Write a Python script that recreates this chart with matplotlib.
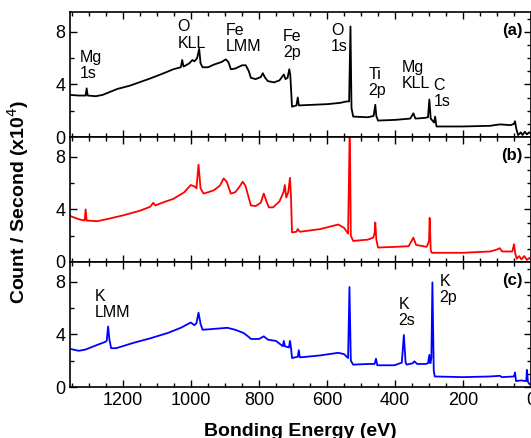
import matplotlib
matplotlib.use("Agg")
import matplotlib.pyplot as plt
from matplotlib.ticker import MultipleLocator

plt.rcParams['font.family'] = ['Liberation Sans', 'DejaVu Sans']

# binding energy (eV) / counts per second (x10^4)
energy_a = [1356, 1330, 1310, 1307, 1304, 1280, 1260, 1217, 1180, 1120, 1080, 1052, 1030, 1026, 1022,
            1005, 996, 990, 982, 976, 972, 966, 950, 933, 910, 898, 890, 883, 870, 850, 839, 830, 824,
            810, 795, 789, 782, 774, 756, 740, 727, 722, 716, 711, 708, 703, 690, 686, 683, 640, 597,
            560, 543, 535, 531, 528, 523, 480, 463, 458, 455, 450, 400, 355, 346, 340, 313, 303, 299,
            295, 285, 282, 278, 200, 120, 95, 86, 60, 50, 47, 43, 38, 30, 25, 18, 12, 6, 0]
counts_a = [3.2, 3.15, 3.15, 3.7, 3.15, 3.1, 3.2, 3.65, 3.9, 4.45, 4.85, 5.15, 5.3, 5.85, 5.35,
            5.6, 5.85, 5.75, 6.0, 6.7, 5.6, 5.3, 5.3, 5.5, 5.7, 5.9, 5.7, 5.15, 5.2, 5.45, 5.45, 5.0, 4.5,
            4.4, 4.55, 4.85, 4.5, 4.25, 4.15, 4.3, 4.75, 4.4, 4.5, 5.15, 4.7, 2.3, 2.4, 3.0, 2.4, 2.45, 2.5,
            2.6, 2.7, 2.7, 8.4, 2.2, 1.55, 1.5, 1.6, 2.45, 1.6, 1.25, 1.3, 1.4, 1.8, 1.4, 1.45, 1.5, 2.85,
            1.4, 1.1, 1.55, 0.8, 0.8, 0.85, 0.95, 0.95, 0.9, 1.0, 1.2, 0.6, 0.15, 0.35, 0.15, 0.4, 0.2, 0.35, 0.25]

energy_b = [1356, 1330, 1313, 1310, 1307, 1276, 1240, 1199, 1150, 1120, 1111, 1105, 1080, 1052, 1020,
            1001, 990, 984, 978, 972, 963, 950, 933, 915, 904, 895, 883, 870, 858, 848, 840, 824, 810,
            795, 786, 778, 771, 759, 740, 728, 724, 720, 714, 709, 706, 703, 690, 686, 680, 620, 567,
            550, 538, 533, 530, 523, 480, 464, 460, 458, 455, 450, 400, 360, 346, 338, 307, 300, 298,
            295, 292, 200, 120, 100, 92, 85, 55, 50, 46, 42, 35, 28, 20, 12, 6, 0]
counts_b = [3.5, 3.25, 3.15, 4.0, 3.15, 3.1, 3.3, 3.55, 3.9, 4.2, 4.5, 4.3, 4.55, 4.8, 5.3,
            5.85, 5.75, 5.6, 7.4, 5.6, 5.2, 5.3, 5.45, 5.8, 6.35, 6.1, 5.2, 5.3, 5.7, 6.1, 5.8, 4.3, 4.25,
            4.5, 5.2, 4.6, 4.15, 4.15, 4.6, 5.3, 5.85, 4.9, 5.3, 6.4, 5.0, 2.25, 2.3, 2.5, 2.3, 2.5, 2.85,
            2.6, 2.15, 10.5, 2.0, 1.6, 1.7, 1.85, 2.2, 3.0, 1.7, 1.1, 1.15, 1.2, 1.85, 1.3, 1.15, 1.6, 3.35,
            0.9, 0.7, 0.7, 0.8, 0.95, 1.05, 0.8, 0.8, 1.35, 0.6, 0.25, 0.45, 0.2, 0.45, 0.15, 0.3, 0.2]

energy_c = [1356, 1330, 1310, 1276, 1255, 1248, 1244, 1240, 1235, 1220, 1170, 1120, 1069, 1030, 1001,
            990, 984, 978, 972, 966, 940, 893, 870, 845, 830, 824, 800, 786, 774, 750, 730, 727, 724,
            712, 709, 706, 703, 686, 683, 680, 620, 567, 550, 538, 534, 530, 523, 480, 460, 456, 452,
            402, 380, 374, 369, 366, 348, 343, 335, 310, 303, 299, 296, 293, 290, 286, 283, 200, 120,
            92, 85, 50, 47, 44, 30, 14, 12, 9, 4, 0]
counts_c = [2.9, 2.75, 2.85, 3.2, 3.4, 3.5, 4.6, 3.6, 2.95, 2.95, 3.35, 3.7, 4.1, 4.5, 4.9,
            4.7, 4.85, 5.65, 4.8, 4.35, 4.4, 4.5, 4.35, 4.1, 3.8, 3.65, 3.65, 3.85, 3.6, 3.5, 3.1, 3.5, 3.1,
            3.0, 3.5, 3.0, 2.2, 2.3, 2.8, 2.25, 2.4, 2.6, 2.5, 2.2, 7.6, 2.0, 1.7, 1.75, 1.75, 2.15, 1.65,
            1.65, 1.85, 3.95, 1.9, 1.7, 1.8, 1.95, 1.75, 1.75, 1.8, 2.45, 1.8, 2.2, 7.95, 1.2, 0.8, 0.75, 0.8,
            0.85, 0.75, 0.8, 1.1, 0.45, 0.5, 0.45, 1.3, 0.4, 0.2, 0.2]

panel_tags = ['(a)', '(b)', '(c)']
line_colors = ['black', 'red', 'blue']

# peak labels: (text, energy of left edge, vertical centre)
labels_a = [("Mg\n1s", 1326, 5.45), ("O\nKLL", 1040, 7.75), ("Fe\nLMM", 898, 7.5),
            ("Fe\n2p", 730, 7.0), ("O\n1s", 588, 7.5), ("Ti\n2p", 479, 4.15),
            ("Mg\nKLL", 381, 4.7), ("C\n1s", 287, 3.3)]
labels_b = []
labels_c = [("K\nLMM", 1282, 6.25), ("K\n2s", 390, 5.65), ("K\n2p", 269, 7.4)]

fig = plt.figure(figsize=(5.31, 4.38), dpi=100)
left, width = 70 / 531, 461 / 531
h = 125 / 438
bottoms = [(438 - 137) / 438, (438 - 262) / 438, (438 - 387) / 438]

series = [(energy_a, counts_a, labels_a), (energy_b, counts_b, labels_b), (energy_c, counts_c, labels_c)]
for i, (xs, ys, labs) in enumerate(series):
    ax = fig.add_axes([left, bottoms[i], width, h])
    ax.plot(xs, ys, color=line_colors[i], lw=1.3)
    ax.set_xlim(1356, 0)
    ax.set_ylim(0, 9.5)
    ax.xaxis.set_major_locator(MultipleLocator(200))
    ax.xaxis.set_minor_locator(MultipleLocator(50))
    ax.yaxis.set_major_locator(MultipleLocator(4))
    ax.yaxis.set_minor_locator(MultipleLocator(2))
    ax.tick_params(which='both', direction='in', top=True, right=False, labelsize=13, width=1)
    ax.tick_params(which='major', length=5)
    ax.tick_params(which='minor', length=3)
    sec = ax.secondary_yaxis('right')
    sec.yaxis.set_major_locator(MultipleLocator(4))
    sec.yaxis.set_minor_locator(MultipleLocator(1))
    sec.tick_params(which='both', direction='in', labelright=False, width=1)
    sec.tick_params(which='major', length=5)
    sec.tick_params(which='minor', length=3)
    for sp in ax.spines.values():
        sp.set_linewidth(1.2)
    if i < 2:
        ax.tick_params(labelbottom=False)
    for txt, e, yv in labs:
        ax.text(e, yv, txt, ha='left', va='center', fontsize=11.5, linespacing=1.1)
    ax.text(0.982, 0.85, panel_tags[i], transform=ax.transAxes, ha='right', va='center',
            fontsize=12, fontweight='bold')

fig.text(0.034, (438 - 202) / 438, "Count / Second (x10$^4$)", rotation=90,
         ha='center', va='center', fontsize=14, fontweight='bold')
fig.text(300 / 531, 1.5 / 438, "Bonding Energy (eV)", ha='center', va='baseline',
         fontsize=14, fontweight='bold')

fig.savefig("out.png", dpi=100)
